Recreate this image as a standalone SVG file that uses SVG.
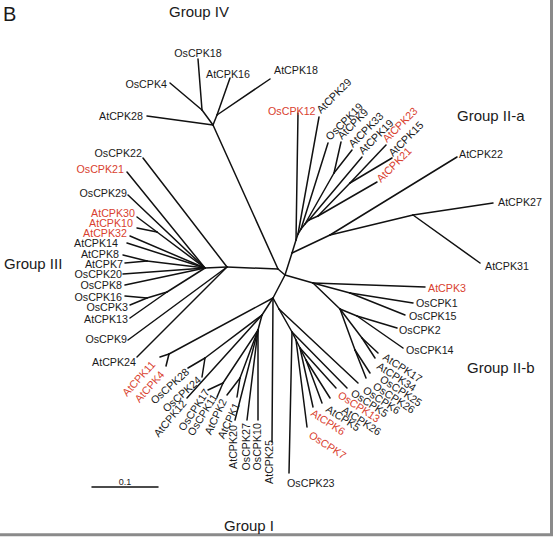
<svg xmlns="http://www.w3.org/2000/svg" width="553" height="539" viewBox="0 0 553 539">
<style>
.e{stroke:#111;stroke-width:1.5;stroke-linecap:round}
.t{font-family:"Liberation Sans",Arial,sans-serif;font-size:10.7px;fill:#1a1a1a}
.r{fill:#d9412f}
.h{font-family:"Liberation Sans",Arial,sans-serif;font-size:15px;fill:#1a1a1a}
</style>
<rect width="553" height="539" fill="#fff"/>
<path d="M551.5,0 V534.7 H0" stroke="#8a8a8a" stroke-width="3" fill="none"/>
<g id="connectors" class="e">
<line x1="227" y1="267" x2="278" y2="269"/>
<line x1="213" y1="125" x2="278" y2="269"/>
<line x1="278" y1="269" x2="285" y2="275"/>
<line x1="285" y1="275" x2="292" y2="253"/>
<line x1="285" y1="275" x2="313" y2="283"/>
<line x1="285" y1="275" x2="273" y2="298"/>
<line x1="213" y1="125" x2="147" y2="116"/>
<line x1="213" y1="125" x2="202" y2="110"/>
<line x1="202" y1="110" x2="170" y2="83"/>
<line x1="202" y1="110" x2="198" y2="59"/>
<line x1="213" y1="125" x2="217" y2="115"/>
<line x1="217" y1="115" x2="230" y2="78"/>
<line x1="217" y1="115" x2="270" y2="79"/>
<line x1="227" y1="267" x2="143" y2="158"/>
<line x1="227" y1="267" x2="205" y2="268"/>
<line x1="227" y1="267" x2="128" y2="340"/>
<line x1="227" y1="267" x2="137" y2="357"/>
<line x1="205" y1="268" x2="127" y2="172"/>
<line x1="205" y1="268" x2="128" y2="195"/>
<line x1="205" y1="268" x2="157" y2="232"/>
<line x1="157" y1="232" x2="137" y2="217"/>
<line x1="157" y1="232" x2="137" y2="228"/>
<line x1="205" y1="268" x2="130" y2="236"/>
<line x1="205" y1="268" x2="127" y2="243"/>
<line x1="205" y1="268" x2="147" y2="261"/>
<line x1="147" y1="261" x2="123" y2="255"/>
<line x1="147" y1="261" x2="125" y2="263"/>
<line x1="205" y1="268" x2="123" y2="274"/>
<line x1="205" y1="268" x2="125" y2="285"/>
<line x1="205" y1="268" x2="167" y2="292"/>
<line x1="167" y1="292" x2="147" y2="298"/>
<line x1="147" y1="298" x2="125" y2="296"/>
<line x1="147" y1="298" x2="130" y2="305"/>
<line x1="167" y1="292" x2="130" y2="318"/>
<line x1="273" y1="298" x2="169" y2="354"/>
<line x1="169" y1="354" x2="160" y2="357"/>
<line x1="169" y1="354" x2="166" y2="366"/>
<line x1="273" y1="298" x2="262" y2="315"/>
<line x1="262" y1="315" x2="205" y2="358"/>
<line x1="205" y1="358" x2="188" y2="368"/>
<line x1="205" y1="358" x2="202" y2="377"/>
<line x1="262" y1="315" x2="187" y2="398"/>
<line x1="262" y1="315" x2="258" y2="330"/>
<line x1="258" y1="330" x2="223" y2="383"/>
<line x1="223" y1="383" x2="208" y2="390"/>
<line x1="223" y1="383" x2="217" y2="397"/>
<line x1="258" y1="330" x2="240" y2="378"/>
<line x1="240" y1="378" x2="227" y2="395"/>
<line x1="240" y1="378" x2="237" y2="397"/>
<line x1="258" y1="330" x2="235" y2="420"/>
<line x1="258" y1="330" x2="247" y2="420"/>
<line x1="258" y1="330" x2="258" y2="420"/>
<line x1="273" y1="298" x2="272" y2="442"/>
<line x1="273" y1="298" x2="279" y2="309"/>
<line x1="279" y1="309" x2="292" y2="332"/>
<line x1="279" y1="309" x2="358" y2="383"/>
<line x1="292" y1="332" x2="289" y2="473"/>
<line x1="292" y1="332" x2="296" y2="340"/>
<line x1="296" y1="340" x2="307" y2="427"/>
<line x1="296" y1="340" x2="300" y2="348"/>
<line x1="300" y1="348" x2="313" y2="407"/>
<line x1="300" y1="348" x2="306" y2="360"/>
<line x1="306" y1="360" x2="322" y2="403"/>
<line x1="306" y1="360" x2="330" y2="398"/>
<line x1="300" y1="348" x2="336" y2="388"/>
<line x1="292" y1="332" x2="347" y2="388"/>
<line x1="313" y1="283" x2="425" y2="287"/>
<line x1="313" y1="283" x2="350" y2="293"/>
<line x1="350" y1="293" x2="413" y2="303"/>
<line x1="350" y1="293" x2="405" y2="315"/>
<line x1="313" y1="283" x2="340" y2="309"/>
<line x1="340" y1="309" x2="357" y2="316"/>
<line x1="357" y1="316" x2="397" y2="328"/>
<line x1="357" y1="316" x2="403" y2="348"/>
<line x1="340" y1="309" x2="362" y2="338"/>
<line x1="362" y1="338" x2="378" y2="353"/>
<line x1="362" y1="338" x2="375" y2="358"/>
<line x1="340" y1="309" x2="355" y2="350"/>
<line x1="355" y1="350" x2="370" y2="373"/>
<line x1="355" y1="350" x2="366" y2="378"/>
<line x1="292" y1="253" x2="330" y2="235"/>
<line x1="330" y1="235" x2="457" y2="157"/>
<line x1="330" y1="235" x2="413" y2="215"/>
<line x1="413" y1="215" x2="493" y2="203"/>
<line x1="413" y1="215" x2="480" y2="263"/>
<line x1="292" y1="253" x2="296" y2="240"/>
<line x1="296" y1="240" x2="298" y2="113"/>
<line x1="296" y1="240" x2="298" y2="234"/>
<line x1="298" y1="234" x2="319" y2="117"/>
<line x1="298" y1="234" x2="301" y2="229"/>
<line x1="301" y1="229" x2="328" y2="143"/>
<line x1="301" y1="229" x2="305" y2="224"/>
<line x1="305" y1="224" x2="334" y2="173"/>
<line x1="334" y1="173" x2="341" y2="142"/>
<line x1="334" y1="173" x2="352" y2="150"/>
<line x1="305" y1="224" x2="309" y2="220"/>
<line x1="309" y1="220" x2="362" y2="157"/>
<line x1="309" y1="220" x2="318" y2="216"/>
<line x1="318" y1="216" x2="350" y2="183"/>
<line x1="350" y1="183" x2="386" y2="145"/>
<line x1="350" y1="183" x2="392" y2="158"/>
<line x1="318" y1="216" x2="377" y2="182"/>
<line x1="92" y1="487" x2="158" y2="487"/>
</g>
<g id="panel"><text x="3" y="21" class="h" style="font-size:20px">B</text></g>
<g id="groupIV"><text x="199" y="17" class="h" text-anchor="middle">Group IV</text></g>
<g id="groupIIa"><text x="457" y="121" class="h">Group II-a</text></g>
<g id="groupIII"><text x="4" y="269" class="h">Group III</text></g>
<g id="groupIIb"><text x="467" y="373" class="h">Group II-b</text></g>
<g id="groupI"><text x="224" y="531" class="h">Group I</text></g>
<g id="scale"><text x="125" y="485" class="t" style="font-size:9px" text-anchor="middle">0.1</text></g>
<g id="OsCPK18"><text x="198" y="57" class="t" text-anchor="middle">OsCPK18</text></g>
<g id="OsCPK4"><text x="167" y="88" class="t" text-anchor="end">OsCPK4</text></g>
<g id="AtCPK16"><text x="228" y="78" class="t" text-anchor="middle">AtCPK16</text></g>
<g id="AtCPK28"><text x="143" y="120" class="t" text-anchor="end">AtCPK28</text></g>
<g id="AtCPK18"><text x="274" y="74" class="t">AtCPK18</text></g>
<g id="OsCPK22"><text x="142" y="157" class="t" text-anchor="end">OsCPK22</text></g>
<g id="OsCPK21"><text x="124" y="173" class="t r" text-anchor="end">OsCPK21</text></g>
<g id="OsCPK29"><text x="127" y="197" class="t" text-anchor="end">OsCPK29</text></g>
<g id="AtCPK30"><text x="135" y="216.5" class="t r" text-anchor="end">AtCPK30</text></g>
<g id="AtCPK10"><text x="133" y="227" class="t r" text-anchor="end">AtCPK10</text></g>
<g id="AtCPK32"><text x="127" y="237" class="t r" text-anchor="end">AtCPK32</text></g>
<g id="AtCPK14"><text x="118" y="247" class="t" text-anchor="end">AtCPK14</text></g>
<g id="AtCPK8"><text x="119" y="257.5" class="t" text-anchor="end">AtCPK8</text></g>
<g id="AtCPK7"><text x="123" y="267.5" class="t" text-anchor="end">AtCPK7</text></g>
<g id="OsCPK20"><text x="122" y="278" class="t" text-anchor="end">OsCPK20</text></g>
<g id="OsCPK8"><text x="122" y="289" class="t" text-anchor="end">OsCPK8</text></g>
<g id="OsCPK16"><text x="122" y="300.5" class="t" text-anchor="end">OsCPK16</text></g>
<g id="OsCPK3"><text x="128" y="310.5" class="t" text-anchor="end">OsCPK3</text></g>
<g id="AtCPK13"><text x="128" y="323" class="t" text-anchor="end">AtCPK13</text></g>
<g id="OsCPK9"><text x="127" y="343" class="t" text-anchor="end">OsCPK9</text></g>
<g id="AtCPK24"><text x="136" y="366" class="t" text-anchor="end">AtCPK24</text></g>
<g id="AtCPK11"><text transform="translate(156,365) rotate(-48)" class="t r" text-anchor="end">AtCPK11</text></g>
<g id="AtCPK4"><text transform="translate(165,375) rotate(-48)" class="t r" text-anchor="end">AtCPK4</text></g>
<g id="OsCPK28"><text transform="translate(190,373) rotate(-42)" class="t" text-anchor="end">OsCPK28</text></g>
<g id="OsCPK24"><text transform="translate(202,381) rotate(-42)" class="t" text-anchor="end">OsCPK24</text></g>
<g id="AtCPK12"><text transform="translate(187,404) rotate(-50)" class="t" text-anchor="end">AtCPK12</text></g>
<g id="OsCPK17"><text transform="translate(210,392) rotate(-57)" class="t" text-anchor="end">OsCPK17</text></g>
<g id="OsCPK11"><text transform="translate(218,397) rotate(-58)" class="t" text-anchor="end">OsCPK11</text></g>
<g id="AtCPK2"><text transform="translate(227,401) rotate(-65)" class="t" text-anchor="end">AtCPK2</text></g>
<g id="AtCPK1"><text transform="translate(240,405) rotate(-65)" class="t" text-anchor="end">AtCPK1</text></g>
<g id="AtCPK20"><text transform="translate(237,425) rotate(-90)" class="t" text-anchor="end">AtCPK20</text></g>
<g id="OsCPK27"><text transform="translate(250,423) rotate(-90)" class="t" text-anchor="end">OsCPK27</text></g>
<g id="OsCPK10"><text transform="translate(261,423) rotate(-90)" class="t" text-anchor="end">OsCPK10</text></g>
<g id="AtCPK25"><text transform="translate(273,440) rotate(-90)" class="t" text-anchor="end">AtCPK25</text></g>
<g id="OsCPK23"><text x="287" y="487" class="t">OsCPK23</text></g>
<g id="OsCPK7"><text transform="translate(308,437) rotate(33)" class="t r">OsCPK7</text></g>
<g id="AtCPK6"><text transform="translate(310,415) rotate(33)" class="t r">AtCPK6</text></g>
<g id="AtCPK5"><text transform="translate(325,411) rotate(33)" class="t">AtCPK5</text></g>
<g id="AtCPK26"><text transform="translate(341,412) rotate(33)" class="t">AtCPK26</text></g>
<g id="OsCPK13"><text transform="translate(337,397) rotate(33)" class="t r">OsCPK13</text></g>
<g id="OsCPK5"><text transform="translate(350,395) rotate(33)" class="t">OsCPK5</text></g>
<g id="OsCPK6"><text transform="translate(362,392) rotate(33)" class="t">OsCPK6</text></g>
<g id="OsCPK26"><text transform="translate(372,388) rotate(33)" class="t">OsCPK26</text></g>
<g id="OsCPK25"><text transform="translate(379,381) rotate(33)" class="t">OsCPK25</text></g>
<g id="AtCPK34"><text transform="translate(376,368) rotate(33)" class="t">AtCPK34</text></g>
<g id="AtCPK17"><text transform="translate(382,359) rotate(33)" class="t">AtCPK17</text></g>
<g id="OsCPK14"><text x="406" y="354" class="t">OsCPK14</text></g>
<g id="OsCPK2"><text x="399" y="334" class="t">OsCPK2</text></g>
<g id="OsCPK15"><text x="409" y="320" class="t">OsCPK15</text></g>
<g id="OsCPK1"><text x="416" y="307" class="t">OsCPK1</text></g>
<g id="AtCPK3"><text x="428" y="292" class="t r">AtCPK3</text></g>
<g id="AtCPK31"><text x="485" y="270" class="t">AtCPK31</text></g>
<g id="AtCPK27"><text x="498" y="206" class="t">AtCPK27</text></g>
<g id="AtCPK22"><text x="459" y="158" class="t">AtCPK22</text></g>
<g id="OsCPK12"><text x="268" y="115" class="t r">OsCPK12</text></g>
<g id="AtCPK29"><text transform="translate(321,114) rotate(-45)" class="t">AtCPK29</text></g>
<g id="OsCPK19"><text transform="translate(330,141) rotate(-45)" class="t">OsCPK19</text></g>
<g id="AtCPK9"><text transform="translate(342,140) rotate(-45)" class="t">AtCPK9</text></g>
<g id="AtCPK33"><text transform="translate(353,148) rotate(-45)" class="t">AtCPK33</text></g>
<g id="AtCPK19"><text transform="translate(363,155) rotate(-45)" class="t">AtCPK19</text></g>
<g id="AtCPK23"><text transform="translate(387,143) rotate(-45)" class="t r">AtCPK23</text></g>
<g id="AtCPK15"><text transform="translate(393,157) rotate(-45)" class="t">AtCPK15</text></g>
<g id="AtCPK21"><text transform="translate(381,183) rotate(-45)" class="t r">AtCPK21</text></g>
</svg>
